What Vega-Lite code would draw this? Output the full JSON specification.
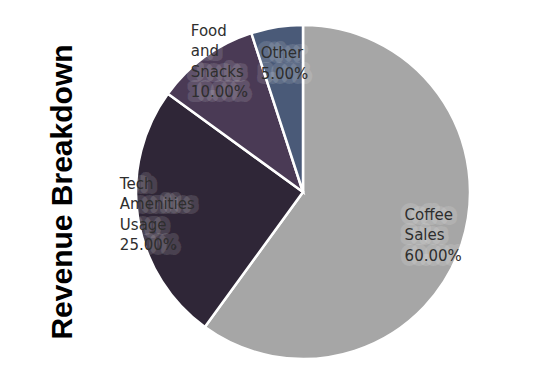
{
  "$schema": "https://vega.github.io/schema/vega-lite/v6.json",
  "autosize": {"type": "none"},
  "width": 446,
  "height": 374,
  "padding": {"left": 80, "top": 5, "right": 9, "bottom": 0},
  "background": "white",
  "config": {"view": {"stroke": null}},
  "title": {
    "text": "Revenue Breakdown",
    "orient": "left",
    "anchor": "middle",
    "offset": 2,
    "font": "Liberation Sans",
    "fontSize": 30,
    "fontWeight": "bold",
    "color": "#000000"
  },
  "data": {
    "values": [
      {"category": "Coffee Sales", "value": 60, "order": 1, "label": "Coffee Sales 60.00%"},
      {"category": "Tech Amenities Usage", "value": 25, "order": 2, "label": "Tech Amenities Usage 25.00%"},
      {"category": "Food and Snacks", "value": 10, "order": 3, "label": "Food and Snacks 10.00%"},
      {"category": "Other", "value": 5, "order": 4, "label": "Other 5.00%"}
    ]
  },
  "encoding": {
    "theta": {"field": "value", "type": "quantitative", "stack": true},
    "order": {"field": "order", "type": "quantitative"}
  },
  "layer": [
    {
      "mark": {"type": "arc", "radius": 167, "stroke": "white", "strokeWidth": 2.5},
      "encoding": {
        "color": {
          "field": "category",
          "type": "nominal",
          "scale": {
            "domain": ["Coffee Sales", "Tech Amenities Usage", "Food and Snacks", "Other"],
            "range": ["#a6a6a6", "#2f2637", "#4a3a55", "#4a5a78"]
          },
          "legend": null
        }
      }
    },
    {
      "encoding": {
        "text": {"condition": {"test": "datum.category === 'Coffee Sales'", "field": "label"}, "value": ""}
      },
      "layer": [
        {"mark": {"type": "text", "radius": 110, "align": "left", "baseline": "middle", "dx": -3, "dy": -11, "font": "DejaVu Sans", "fontSize": 15, "lineHeight": 20.5, "lineBreak": " ", "fill": "transparent", "fillOpacity": 0, "stroke": "white", "strokeWidth": 10, "strokeOpacity": 0.12, "strokeJoin": "round"}},
        {"mark": {"type": "text", "radius": 110, "align": "left", "baseline": "middle", "dx": -3, "dy": -11, "font": "DejaVu Sans", "fontSize": 15, "lineHeight": 20.5, "lineBreak": " ", "fill": "#2e2e2e"}}
      ]
    },
    {
      "encoding": {
        "text": {"condition": {"test": "datum.category === 'Tech Amenities Usage'", "field": "label"}, "value": ""}
      },
      "layer": [
        {"mark": {"type": "text", "radius": 150, "align": "left", "baseline": "middle", "dx": -35, "dy": -31.5, "font": "DejaVu Sans", "fontSize": 15, "lineHeight": 20.5, "lineBreak": " ", "fill": "transparent", "fillOpacity": 0, "stroke": "white", "strokeWidth": 10, "strokeOpacity": 0.12, "strokeJoin": "round"}},
        {"mark": {"type": "text", "radius": 150, "align": "left", "baseline": "middle", "dx": -35, "dy": -31.5, "font": "DejaVu Sans", "fontSize": 15, "lineHeight": 20.5, "lineBreak": " ", "fill": "#2e2e2e"}}
      ]
    },
    {
      "encoding": {
        "text": {"condition": {"test": "datum.category === 'Food and Snacks'", "field": "label"}, "value": ""}
      },
      "layer": [
        {"mark": {"type": "text", "radius": 150, "align": "left", "baseline": "middle", "dx": -24, "dy": -40, "font": "DejaVu Sans", "fontSize": 15, "lineHeight": 20.5, "lineBreak": " ", "fill": "transparent", "fillOpacity": 0, "stroke": "white", "strokeWidth": 10, "strokeOpacity": 0.12, "strokeJoin": "round"}},
        {"mark": {"type": "text", "radius": 150, "align": "left", "baseline": "middle", "dx": -24, "dy": -40, "font": "DejaVu Sans", "fontSize": 15, "lineHeight": 20.5, "lineBreak": " ", "fill": "#2e2e2e"}}
      ]
    },
    {
      "encoding": {
        "text": {"condition": {"test": "datum.category === 'Other'", "field": "label"}, "value": ""}
      },
      "layer": [
        {"mark": {"type": "text", "radius": 130, "align": "left", "baseline": "middle", "dx": -22, "dy": -10.5, "font": "DejaVu Sans", "fontSize": 15, "lineHeight": 20.5, "lineBreak": " ", "fill": "transparent", "fillOpacity": 0, "stroke": "white", "strokeWidth": 10, "strokeOpacity": 0.12, "strokeJoin": "round"}},
        {"mark": {"type": "text", "radius": 130, "align": "left", "baseline": "middle", "dx": -22, "dy": -10.5, "font": "DejaVu Sans", "fontSize": 15, "lineHeight": 20.5, "lineBreak": " ", "fill": "#2e2e2e"}}
      ]
    }
  ]
}
